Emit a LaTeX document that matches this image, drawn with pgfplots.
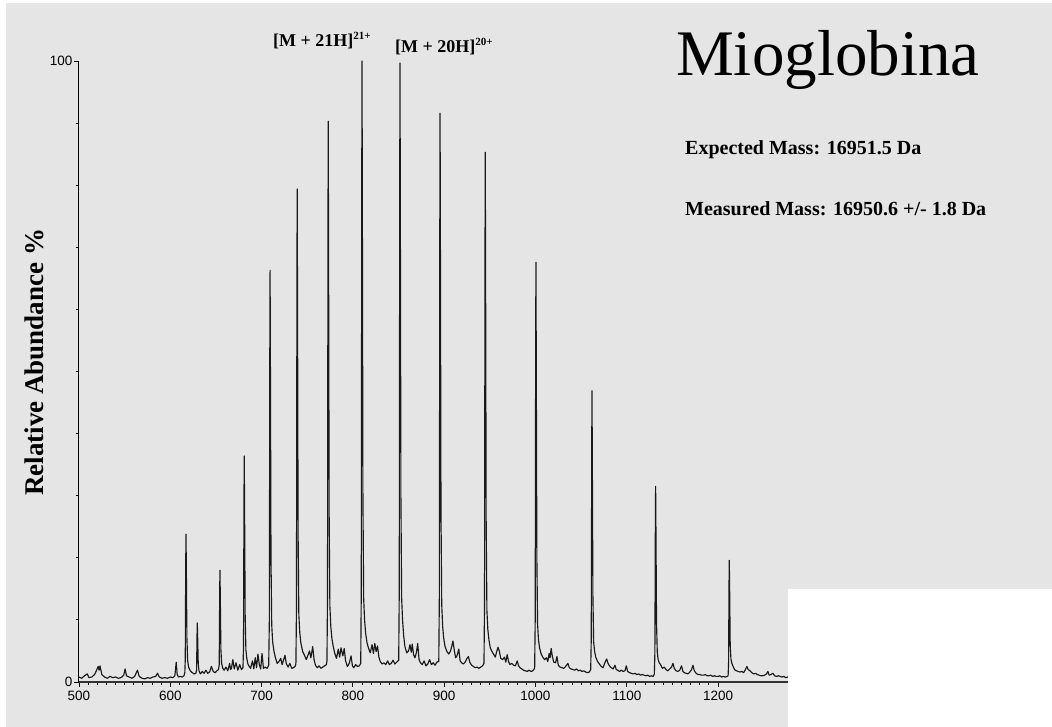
\documentclass[border=0pt]{standalone}
\usepackage{fontspec}
\setmainfont{Liberation Serif}
\newfontfamily\arialfont{Liberation Sans}
\usepackage{pgfplots}
\pgfplotsset{compat=1.18}
\definecolor{bg}{RGB}{229,229,229}
\begin{document}
\begin{tikzpicture}
% page: 1052 x 727 (1pt = 1px); axis origin at pixel (79,682)
\path[use as bounding box, fill=white] (-79pt,-45pt) rectangle (973pt,682pt);
\fill[bg] (-73pt,-45pt) rectangle (973pt,679pt);
\begin{axis}[
  at={(0pt,0pt)}, anchor=south west,
  scale only axis, width=709pt, height=621pt,
  xmin=500, xmax=1276.6, ymin=0, ymax=100,
  axis lines*=left,
  axis line style={black, line width=1pt},
  x axis line style={black!80, line width=1.5pt},
  xtick={500,600,...,1200}, minor x tick num=9,
  ytick={0,100}, minor y tick num=9,
  tick align=outside,
  major tick length=5pt, minor tick length=3pt,
  tick style={black, line width=0.9pt},
  /pgf/number format/assume math mode=true,
  /pgf/number format/set thousands separator={},
  ticklabel style={font=\arialfont\fontsize{13.5}{13.5}\selectfont, text=black},
  xticklabel style={yshift=-1pt},
  yticklabel style={xshift=2pt},
  ylabel={\bfseries\fontsize{27}{27}\selectfont Relative Abundance \%},
  ylabel style={at={(axis description cs:-0.0504,0.5148)}, anchor=base, rotate=0},
]
\addplot[black!90, line width=1.15pt, line join=round] coordinates {
(500,0.8) (503,0.6) (506,1.0) (509,1.3) (511,0.7) (514,0.8) (517,1.2) (519,1.8) (521,2.5) (522,1.9) (523,2.6) (525,1.2) (528,0.8) (531,0.6) (534,0.9) (537,0.7) (540,0.8) (543,0.6) (546,0.7) (549,1.1) (550.5,2.1) (552,1.0) (555,0.8) (558,0.6) (561,0.9) (564,1.9) (566,0.9) (569,0.6) (572,0.5) (575,0.7) (578,0.6) (581,0.8) (584,0.9) (586,1.4) (588,0.8) (591,0.6) (594,0.7) (597,0.6) (600,0.8) (603,0.7) (605,1.0) (606.5,3.2) (607.5,1.2) (609,0.8) (611,0.9) (613,0.8) (615,1.0)
(615.9,1.5) (616.4,3.6) (616.9,19) (617.2,23.8) (617.6,17.9) (618.2,7.1) (619,3.5) (620,2.4) (622,1.8) (624,1.5) (626,1.3) (628,1.4)
(628.8,1.9) (629.3,7.6) (629.6,9.5) (630,7.1) (630.6,3.0) (631.4,1.8) (633,1.3) (635,1.7) (637,1.4) (639,1.9) (641,1.4) (643,1.6) (645,2.5) (647,1.7) (649,1.5) (651,1.8) (652.8,2.0)
(653.6,2.8) (654.1,14.4) (654.4,18) (654.8,13.5) (655.4,5.4) (656.2,3.0) (657.5,2.2) (659,1.9) (661,2.4) (663,1.8) (665,3.0) (666,2.0) (667,2.2) (668.5,3.6) (670,2.1) (672,3.1) (674,1.9) (676,2.8) (678,2.0) (679.6,2.3)
(680.2,5.5) (680.7,29) (681,36.4) (681.4,27.3) (682,10.9) (682.8,5.2) (683.8,3.8) (685,2.9) (686.5,2.5) (688,2.2) (690,3.4) (691.5,2.1) (693,3.9) (694.5,2.3) (696,4.5) (697.5,2.8) (699,2.1) (700.5,4.6) (702,2.2) (704,2.4) (706,2.2) (707.8,2.7)
(708.5,10) (709,53) (709.3,66.3) (709.7,49.7) (710.3,19.9) (711.1,9.2) (712.1,6.5) (713.5,5.0) (715,4.0) (717,3.0) (719,3.3) (721,3.8) (722.5,2.8) (724,3.5) (725.6,4.3) (727,3.0) (729,2.4) (731,3.0) (733,2.2) (735,2.3) (737,2.6) (737.6,3.0)
(738.2,11.9) (738.7,63.5) (739,79.4) (739.4,59.5) (740,23.8) (740.8,10.8) (741.8,8.0) (743,6.3) (745,4.9) (747,4.3) (749,3.6) (751,4.4) (752.5,5.0) (754,3.9) (756,5.7) (757.5,3.6) (759,2.7) (761,2.3) (763,2.6) (765,2.2) (767,2.4) (769,2.6) (771,2.8) (771.6,3.4)
(772.2,13.5) (772.7,72) (773,90.3) (773.4,67.7) (774,27) (774.8,12.2) (775.8,9.0) (777,7.0) (778.5,5.7) (780,4.7) (782,3.8) (784,5.3) (785.5,4.0) (787,5.5) (789,4.2) (790.5,5.4) (792,3.4) (794,2.5) (796,3.0) (798,4.2) (799.5,2.6) (801,2.3) (803,2.8) (805,2.5) (807,2.6) (808.6,3.0)
(809.2,15) (809.7,80) (810,100) (810.4,75) (811,30) (811.8,13.5) (812.8,10) (814,7.8) (815.5,6.3) (817,5.5) (819,4.7) (821,6.0) (822.5,4.6) (824,6.2) (825.5,4.9) (827,5.8) (828.5,4.0) (830,3.3) (832,2.9) (834,3.1) (836,2.8) (838,3.4) (840,2.8) (842,3.0) (844,3.5) (846,2.9) (848,3.2) (850.2,3.5)
(850.8,15) (851.3,80) (851.6,99.7) (852,75) (852.6,30) (853.4,13.5) (854.4,10) (855.6,7.5) (857,5.7) (859,4.7) (861,5.0) (862.5,6.0) (864,4.8) (865,6.1) (866.5,4.4) (868,3.9) (869.5,4.7) (871,6.2) (872.5,3.6) (874,3.1) (876,2.8) (878,3.4) (880,2.6) (882,2.9) (884,3.6) (886,2.8) (888,3.1) (890,2.7) (892,3.2) (894.1,3.3)
(894.7,13.7) (895.2,73) (895.5,91.6) (895.9,68.7) (896.5,27.5) (897.3,12.5) (898.3,9.0) (899.5,7.0) (901,5.7) (903,4.9) (905,4.5) (907,5.0) (908.5,5.9) (909.6,6.6) (911,5.2) (912.5,3.9) (914,4.2) (916,5.3) (917.5,3.4) (919,3.1) (921,2.9) (923,3.2) (925,3.8) (926.5,4.1) (928,3.2) (930,2.7) (932,2.5) (934,2.3) (936,2.4) (938,2.2) (940,2.4) (942,2.6) (943.6,3.0)
(944.2,12.8) (944.7,68) (945,85.3) (945.4,64) (946,25.6) (946.8,11.5) (947.8,8.5) (949,6.8) (950.5,5.5) (952,5.0) (954,4.5) (956,4.0) (957.5,4.9) (959,5.6) (960.5,4.9) (962,3.8) (964,3.6) (966,4.0) (967.5,3.2) (969,4.4) (970.5,3.3) (972,2.8) (974,3.0) (976,2.7) (978,2.6) (980,3.4) (981.5,2.6) (983,2.3) (985,2.1) (987,1.9) (989,1.8) (991,1.7) (993,1.9) (995,1.7) (997,1.8) (999.1,2.2)
(999.7,10) (1000.2,54) (1000.5,67.6) (1000.9,50.7) (1001.5,20.3) (1002.3,9.3) (1003.3,6.8) (1004.5,5.5) (1006,4.6) (1008,4.0) (1010,3.6) (1012,3.9) (1013.5,3.3) (1015,4.6) (1016,3.9) (1017.2,5.4) (1018.5,4.1) (1020,3.2) (1022,3.1) (1023.5,4.1) (1025,2.7) (1027,2.4) (1029,2.3) (1031,2.2) (1033,2.5) (1035.5,3.0) (1037,2.3) (1039,2.1) (1041,2.0) (1043,1.9) (1045,2.1) (1047,1.8) (1049,1.9) (1051,1.7) (1053,1.8) (1055,1.6) (1057,1.5) (1059,1.6) (1060.5,2.0)
(1061.1,7) (1061.6,37.5) (1061.9,46.9) (1062.3,35.2) (1062.9,14) (1063.7,6.5) (1064.7,5.0) (1066,4.0) (1068,3.3) (1070,2.9) (1072,2.5) (1074,2.3) (1076,3.1) (1078,3.7) (1079.5,3.0) (1081,2.6) (1083,2.3) (1085,2.1) (1087,2.7) (1088.5,2.0) (1090,1.9) (1092,1.7) (1094,1.9) (1096,1.7) (1098,1.8) (1099.5,2.6) (1101,1.7) (1103,1.5) (1105,1.4) (1107,1.3) (1109,1.4) (1111,1.2) (1113,1.3) (1115,1.1) (1117,1.2) (1119,1.1) (1121,1.0) (1123,1.1) (1125,0.9) (1127,1.0) (1129,0.9) (1130.2,1.3)
(1130.8,4.7) (1131.3,25.2) (1131.6,31.5) (1132,23.6) (1132.6,9.5) (1133.4,4.8) (1134.4,3.6) (1135.5,3.1) (1137,2.8) (1139,2.2) (1141,2.4) (1143,2.0) (1145,1.8) (1147,2.1) (1149,2.4) (1150.6,3.0) (1152,2.2) (1154,1.8) (1156,1.7) (1158,1.9) (1160,2.6) (1161.5,1.7) (1163,1.5) (1165,1.4) (1167,1.3) (1169,1.6) (1171,2.0) (1172.5,2.7) (1174,1.8) (1176,1.4) (1178,1.2) (1180,1.2) (1182,1.1) (1184,1.1) (1186,1.2) (1188,1.0) (1190,1.0) (1192,1.1) (1194,0.9) (1196,1.0) (1198,0.9) (1200,0.9) (1202,1.0) (1204,0.8) (1206,0.9) (1208,0.8) (1210,0.9) (1211,1.0)
(1211.5,2.9) (1212,15.7) (1212.3,19.6) (1212.7,14.7) (1213.3,5.9) (1214.1,3.7) (1215.1,3.0) (1216.5,2.5) (1218,2.0) (1220,1.8) (1222,1.7) (1224,1.6) (1226,1.7) (1228,1.5) (1230,2.0) (1231.6,2.5) (1233,2.0) (1235,1.8) (1237,1.5) (1239,1.3) (1241,1.4) (1243,1.2) (1245,1.1) (1247,1.0) (1249,1.0) (1251,1.1) (1253,1.3) (1254.6,1.7) (1256,1.1) (1258,1.2) (1260,1.4) (1262,1.0) (1264,0.9) (1266,1.0) (1268,0.9) (1270,0.8) (1272,0.9) (1274,0.7) (1276.5,0.8)
};
\end{axis}
% white cover box at bottom right
\fill[white] (709pt,-45pt) rectangle (973pt,93pt);
% annotations
\node[anchor=base west, inner sep=0pt, font=\bfseries\fontsize{18}{18}\selectfont] at (194pt,635pt) {[M + 21H]\raisebox{7.5pt}{\fontsize{11}{11}\selectfont 21+}};
\node[anchor=base west, inner sep=0pt, font=\bfseries\fontsize{18}{18}\selectfont] at (316pt,629pt) {[M + 20H]\raisebox{7.5pt}{\fontsize{11}{11}\selectfont 20+}};
\node[anchor=base west, inner sep=0pt, font=\fontsize{65}{65}\selectfont] at (597pt,606pt) {Mioglobina};
\node[anchor=base west, inner sep=0pt, font=\bfseries\fontsize{20}{20}\selectfont] at (606pt,527pt) {Expected Mass: 16951.5 Da};
\node[anchor=base west, inner sep=0pt, font=\bfseries\fontsize{20}{20}\selectfont] at (606pt,466pt) {Measured Mass: 16950.6 +/- 1.8 Da};
\end{tikzpicture}
\end{document}
